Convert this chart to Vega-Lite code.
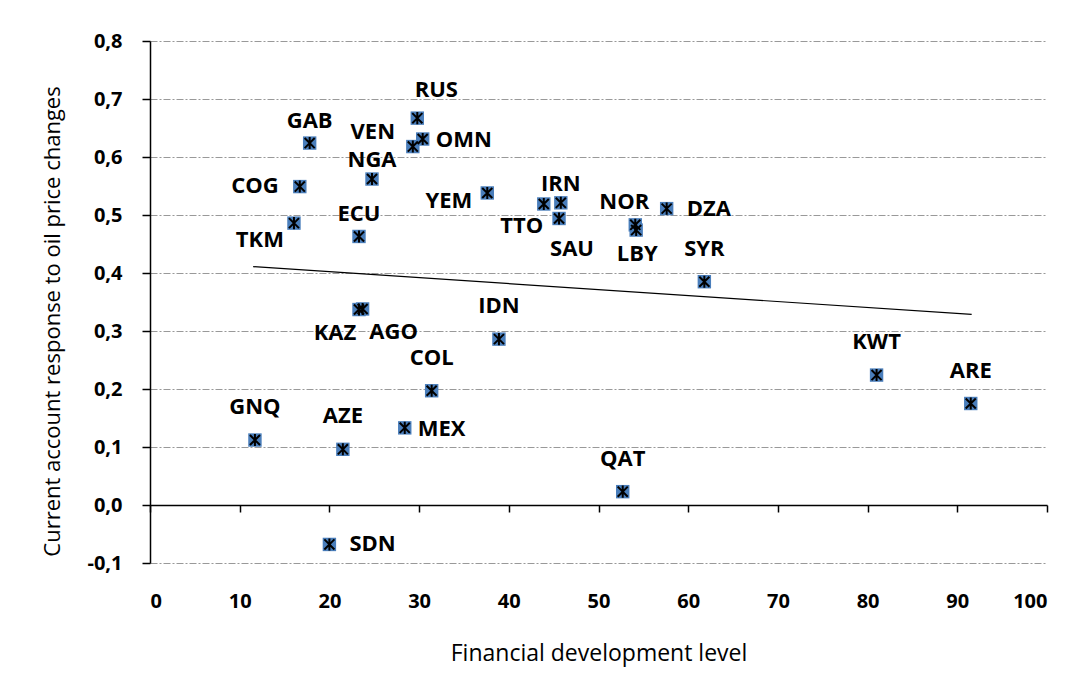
{
  "$schema": "https://vega.github.io/schema/vega-lite/v6.json",
  "autosize": "none",
  "width": 897,
  "height": 522,
  "padding": {"left": 150, "top": 41, "right": 38, "bottom": 118},
  "background": "white",
  "config": {
    "view": {"stroke": null},
    "font": "Open Sans",
    "axis": {"labelFont": "Open Sans", "titleFont": "Open Sans", "labelColor": "#000", "titleColor": "#000"},
    "text": {"font": "Open Sans", "fontWeight": "bold", "fontSize": 22, "baseline": "middle", "color": "#000"}
  },
  "datasets": {
    "pts": [
      {"country": "GAB", "fd": 17.8, "ca": 0.624},
      {"country": "COG", "fd": 16.7, "ca": 0.549},
      {"country": "TKM", "fd": 16.05, "ca": 0.486},
      {"country": "ECU", "fd": 23.3, "ca": 0.463},
      {"country": "NGA", "fd": 24.75, "ca": 0.562},
      {"country": "VEN", "fd": 29.3, "ca": 0.618},
      {"country": "RUS", "fd": 29.8, "ca": 0.667},
      {"country": "OMN", "fd": 30.4, "ca": 0.631},
      {"country": "YEM", "fd": 37.6, "ca": 0.538},
      {"country": "TTO", "fd": 43.9, "ca": 0.519},
      {"country": "IRN", "fd": 45.8, "ca": 0.521},
      {"country": "SAU", "fd": 45.6, "ca": 0.494},
      {"country": "NOR", "fd": 54.1, "ca": 0.483},
      {"country": "LBY", "fd": 54.2, "ca": 0.474},
      {"country": "DZA", "fd": 57.6, "ca": 0.511},
      {"country": "SYR", "fd": 61.8, "ca": 0.385},
      {"country": "IDN", "fd": 38.9, "ca": 0.286},
      {"country": "KAZ", "fd": 23.3, "ca": 0.337},
      {"country": "AGO", "fd": 23.7, "ca": 0.338},
      {"country": "COL", "fd": 31.4, "ca": 0.197},
      {"country": "MEX", "fd": 28.4, "ca": 0.133},
      {"country": "AZE", "fd": 21.5, "ca": 0.096},
      {"country": "GNQ", "fd": 11.7, "ca": 0.112},
      {"country": "SDN", "fd": 20.0, "ca": -0.068},
      {"country": "QAT", "fd": 52.7, "ca": 0.023},
      {"country": "KWT", "fd": 81.0, "ca": 0.224},
      {"country": "ARE", "fd": 91.5, "ca": 0.175}
    ],
    "trend": [
      {"fd": 11.5, "ca": 0.411},
      {"fd": 91.6, "ca": 0.3285}
    ]
  },
  "resolve": {"axis": {"x": "independent"}},
  "layer": [
    {
      "data": {"name": "trend"},
      "mark": {"type": "line", "color": "#000", "strokeWidth": 1.2},
      "encoding": {
        "x": {"field": "fd", "type": "quantitative", "scale": {"domain": [0, 100], "nice": false},
          "axis": {"orient": "bottom", "offset": -58, "labels": false, "title": null, "grid": false, "domain": true, "domainColor": "#000", "domainWidth": 1.5, "ticks": true, "tickColor": "#000", "tickSize": 7, "tickWidth": 1.5, "values": [0,10,20,30,40,50,60,70,80,90,100]}},
        "y": {"field": "ca", "type": "quantitative", "scale": {"domain": [-0.1, 0.8], "nice": false},
          "axis": {"values": [-0.1,0,0.1,0.2,0.3,0.4,0.5,0.6,0.7,0.8],
            "labelExpr": "replace(replace(format(datum.value, '.1f'), '.', ','), '\u2212', '-')",
            "title": "Current account response to oil price changes",
            "titleFontSize": 22, "titleFontWeight": "normal", "titleX": -98, "titleY": 280, "titleAlign": "center", "titleBaseline": "middle", "titleAngle": 270,
            "labelFontSize": 20, "labelFontWeight": "bold", "labelPadding": 20,
            "domainColor": "#000", "domainWidth": 1.5, "tickColor": "#000", "tickSize": 8, "tickWidth": 1.5,
            "grid": true, "gridColor": "#999", "gridDash": [7, 2, 2, 2], "gridWidth": 1}}
      }
    },
    {
      "data": {"name": "pts"},
      "mark": {"type": "point", "shape": "square", "filled": true, "color": "#4A7EBB", "size": 180, "opacity": 1},
      "encoding": {
        "x": {"field": "fd", "type": "quantitative", "scale": {"domain": [0, 100], "nice": false},
          "axis": {"orient": "bottom", "values": [0,10,20,30,40,50,60,70,80,90,100], "domain": false, "ticks": false, "grid": false,
            "labelFontSize": 20, "labelFontWeight": "bold", "labelPadding": 28,
            "title": "Financial development level", "titleFontSize": 23, "titleFontWeight": "normal", "titleY": 90, "titleBaseline": "middle"}},
        "y": {"field": "ca", "type": "quantitative"}
      }
    },
    {
      "data": {"name": "pts"},
      "mark": {"type": "point", "shape": "M-0.75,-0.75L0.75,0.75M-0.75,0.75L0.75,-0.75M0,-0.9L0,0.9", "filled": false, "stroke": "#000", "strokeWidth": 2, "size": 180, "opacity": 1},
      "encoding": {
        "x": {"field": "fd", "type": "quantitative", "axis": null},
        "y": {"field": "ca", "type": "quantitative"}
      }
    },
    {
      "data": {"name": "pts"},
      "transform": [{"filter": "indexof(['SYR','IDN','COL','AZE','GNQ','QAT','KWT','ARE'], datum.country) >= 0"}],
      "mark": {"type": "text", "align": "center", "dy": -33},
      "encoding": {"x": {"field": "fd", "type": "quantitative", "axis": null}, "y": {"field": "ca", "type": "quantitative"}, "text": {"field": "country"}}
    },
    {
      "data": {"name": "pts"},
      "transform": [{"filter": "indexof(['GAB','ECU'], datum.country) >= 0"}],
      "mark": {"type": "text", "align": "center", "dy": -22},
      "encoding": {"x": {"field": "fd", "type": "quantitative", "axis": null}, "y": {"field": "ca", "type": "quantitative"}, "text": {"field": "country"}}
    },
    {
      "data": {"name": "pts"},
      "transform": [{"filter": "indexof(['NGA','IRN'], datum.country) >= 0"}],
      "mark": {"type": "text", "align": "center", "dy": -19},
      "encoding": {"x": {"field": "fd", "type": "quantitative", "axis": null}, "y": {"field": "ca", "type": "quantitative"}, "text": {"field": "country"}}
    },
    {
      "data": {"name": "pts"},
      "transform": [{"filter": "datum.country == 'RUS'"}],
      "mark": {"type": "text", "align": "center", "dx": 19, "dy": -28},
      "encoding": {"x": {"field": "fd", "type": "quantitative", "axis": null}, "y": {"field": "ca", "type": "quantitative"}, "text": {"field": "country"}}
    },
    {
      "data": {"name": "pts"},
      "transform": [{"filter": "datum.country == 'VEN'"}],
      "mark": {"type": "text", "align": "center", "dx": -40, "dy": -15},
      "encoding": {"x": {"field": "fd", "type": "quantitative", "axis": null}, "y": {"field": "ca", "type": "quantitative"}, "text": {"field": "country"}}
    },
    {
      "data": {"name": "pts"},
      "transform": [{"filter": "indexof(['OMN','MEX'], datum.country) >= 0"}],
      "mark": {"type": "text", "align": "left", "dx": 13, "dy": 1},
      "encoding": {"x": {"field": "fd", "type": "quantitative", "axis": null}, "y": {"field": "ca", "type": "quantitative"}, "text": {"field": "country"}}
    },
    {
      "data": {"name": "pts"},
      "transform": [{"filter": "indexof(['DZA','SDN'], datum.country) >= 0"}],
      "mark": {"type": "text", "align": "left", "dx": 20, "dy": 0},
      "encoding": {"x": {"field": "fd", "type": "quantitative", "axis": null}, "y": {"field": "ca", "type": "quantitative"}, "text": {"field": "country"}}
    },
    {
      "data": {"name": "pts"},
      "transform": [{"filter": "datum.country == 'COG'"}],
      "mark": {"type": "text", "align": "right", "dx": -21, "dy": -1},
      "encoding": {"x": {"field": "fd", "type": "quantitative", "axis": null}, "y": {"field": "ca", "type": "quantitative"}, "text": {"field": "country"}}
    },
    {
      "data": {"name": "pts"},
      "transform": [{"filter": "datum.country == 'YEM'"}],
      "mark": {"type": "text", "align": "right", "dx": -15, "dy": 8},
      "encoding": {"x": {"field": "fd", "type": "quantitative", "axis": null}, "y": {"field": "ca", "type": "quantitative"}, "text": {"field": "country"}}
    },
    {
      "data": {"name": "pts"},
      "transform": [{"filter": "datum.country == 'TKM'"}],
      "mark": {"type": "text", "align": "right", "dx": -10, "dy": 17},
      "encoding": {"x": {"field": "fd", "type": "quantitative", "axis": null}, "y": {"field": "ca", "type": "quantitative"}, "text": {"field": "country"}}
    },
    {
      "data": {"name": "pts"},
      "transform": [{"filter": "datum.country == 'TTO'"}],
      "mark": {"type": "text", "align": "center", "dx": -22, "dy": 22},
      "encoding": {"x": {"field": "fd", "type": "quantitative", "axis": null}, "y": {"field": "ca", "type": "quantitative"}, "text": {"field": "country"}}
    },
    {
      "data": {"name": "pts"},
      "transform": [{"filter": "datum.country == 'SAU'"}],
      "mark": {"type": "text", "align": "center", "dx": 13, "dy": 31},
      "encoding": {"x": {"field": "fd", "type": "quantitative", "axis": null}, "y": {"field": "ca", "type": "quantitative"}, "text": {"field": "country"}}
    },
    {
      "data": {"name": "pts"},
      "transform": [{"filter": "datum.country == 'NOR'"}],
      "mark": {"type": "text", "align": "center", "dx": -11, "dy": -23},
      "encoding": {"x": {"field": "fd", "type": "quantitative", "axis": null}, "y": {"field": "ca", "type": "quantitative"}, "text": {"field": "country"}}
    },
    {
      "data": {"name": "pts"},
      "transform": [{"filter": "datum.country == 'LBY'"}],
      "mark": {"type": "text", "align": "center", "dx": 1, "dy": 24},
      "encoding": {"x": {"field": "fd", "type": "quantitative", "axis": null}, "y": {"field": "ca", "type": "quantitative"}, "text": {"field": "country"}}
    },
    {
      "data": {"name": "pts"},
      "transform": [{"filter": "datum.country == 'KAZ'"}],
      "mark": {"type": "text", "align": "center", "dx": -24, "dy": 23},
      "encoding": {"x": {"field": "fd", "type": "quantitative", "axis": null}, "y": {"field": "ca", "type": "quantitative"}, "text": {"field": "country"}}
    },
    {
      "data": {"name": "pts"},
      "transform": [{"filter": "datum.country == 'AGO'"}],
      "mark": {"type": "text", "align": "center", "dx": 31, "dy": 23},
      "encoding": {"x": {"field": "fd", "type": "quantitative", "axis": null}, "y": {"field": "ca", "type": "quantitative"}, "text": {"field": "country"}}
    }
  ]
}
